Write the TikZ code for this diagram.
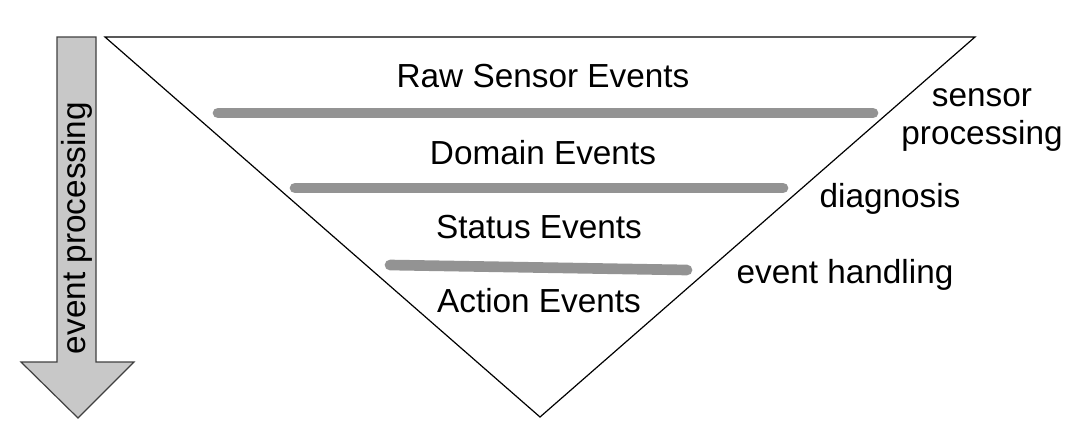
\documentclass[tikz,border=0pt]{standalone}
\usepackage{fontspec}
\setmainfont{Liberation Sans}
\usetikzlibrary{positioning}
\definecolor{barGray}{HTML}{939393}
\definecolor{arrowFill}{HTML}{C8C8C8}

\begin{document}
\begin{tikzpicture}[
  x=0.75pt, y=-0.75pt,
  font=\fontsize{25}{28}\selectfont,
  layer/.style={anchor=base, align=center},
  stage/.style={anchor=base, align=center},
  bar/.style={line width=8pt, line cap=round, draw=barGray},
  funnel/.style={draw=black, line width=0.9pt, line join=miter},
  flow/.style={draw=black!75, fill=arrowFill, line width=0.9pt}
]
\useasboundingbox (0,0) rectangle (1091,443);

% funnel of event levels
\draw[funnel] (105,37) -- (975,37) -- (540,417) -- cycle;

% separators between levels
\draw[bar] (218,113) -- (873,113);
\draw[bar] (295,188) -- (783,188);
\draw[bar] (390,265) -- (687,270);

\node[layer] (raw) at (543,87) {Raw Sensor Events};
\node[layer] (domain) at (543,164) {Domain Events};
\node[layer] (status) at (539,238) {Status Events};
\node[layer] (action) at (539,312) {Action Events};

\node[stage] (sensor) at (982,144) {sensor\\processing};
\node[stage] (diag) at (890,207) {diagnosis};
\node[stage] (handling) at (845,283) {event handling};

% direction of processing
\draw[flow] (57,37) -- (96,37) -- (96,362) -- (134,362) -- (78,418)
  -- (21,362) -- (57,362) -- cycle;
\node[rotate=90] (proc) at (77,228) {event processing};
\end{tikzpicture}
\end{document}
